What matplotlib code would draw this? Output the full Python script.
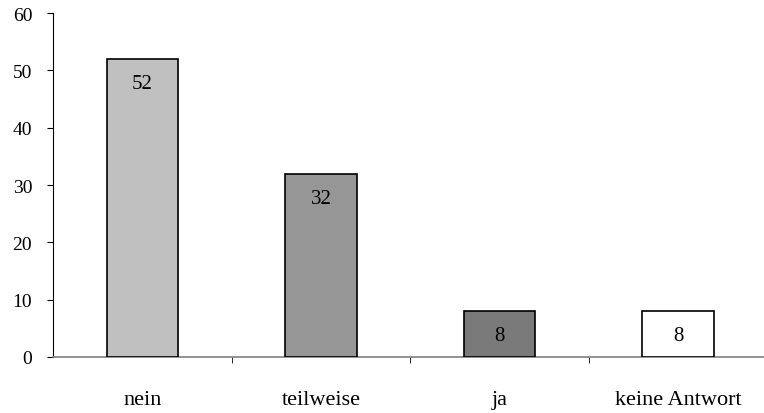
import matplotlib.pyplot as plt
import numpy as np

categories = ['nein', 'teilweise', 'ja', 'keine Antwort']
values = [52, 32, 8, 8]
bar_colors = ['#c0c0c0', '#969696', '#7a7a7a', '#ffffff']
yticks = [0, 10, 20, 30, 40, 50, 60]

plt.rcParams['font.family'] = ['Liberation Serif', 'DejaVu Serif']

fig = plt.figure(figsize=(7.64, 4.14), dpi=100)
ax = fig.add_axes([0.0694, 0.1353, 0.935, 0.8307])

x = np.arange(len(categories))
ax.bar(x, values, width=0.40, color=bar_colors, edgecolor='black', linewidth=1.2, zorder=3)

for xi, v in zip(x, values):
    ax.text(xi, v - 4.3, str(v), ha='center', va='center', fontsize=15, color='black', zorder=4)

ax.set_xlim(-0.5, len(categories) - 0.5)
ax.set_ylim(0, 60)
ax.set_yticks(yticks)
ax.set_yticklabels([str(t) for t in yticks], fontsize=14)

# category names centred, tick marks on the boundaries between them
ax.set_xticks(x)
ax.set_xticklabels(categories, fontsize=16)
ax.tick_params(axis='x', length=0, pad=24)
ax.set_xticks(np.arange(0.5, len(categories) - 0.5), minor=True)
ax.tick_params(axis='x', which='minor', length=4, color='black', direction='out')
ax.tick_params(axis='y', length=4, direction='out', pad=11, color='black')

for s in ['top', 'right']:
    ax.spines[s].set_visible(False)
ax.spines['left'].set_color('black')
ax.spines['bottom'].set_color('#808080')
ax.spines['bottom'].set_linewidth(1.2)

fig.savefig('out.png', dpi=100)
